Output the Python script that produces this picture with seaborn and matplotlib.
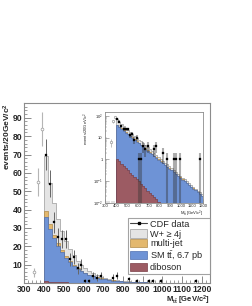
import numpy as np
import pandas as pd
import matplotlib
matplotlib.use("Agg")
import matplotlib.pyplot as plt
import seaborn as sns
from matplotlib.patches import Patch
from matplotlib.lines import Line2D
from matplotlib.ticker import FixedLocator, MultipleLocator, NullFormatter

# ---------------- data ----------------
bin_lo = 400
bin_hi = 1200
bin_w = 20
ttbar = [35.0, 28.9, 23.9, 19.7, 16.3, 13.5, 11.1, 9.2, 7.6, 6.3,
         5.2, 4.3, 3.55, 2.93, 2.42, 2.0, 1.65, 1.36, 1.13, 0.93,
         0.77, 0.64, 0.52, 0.43, 0.36, 0.30, 0.245, 0.20, 0.167, 0.138,
         0.114, 0.094, 0.078, 0.064, 0.053, 0.044, 0.036, 0.030, 0.025, 0.020]
wjets = [30.0, 22.5, 17.0, 13.2, 10.3, 8.1, 6.4, 5.0, 4.0, 3.1,
         2.45, 1.95, 1.55, 1.22, 0.97, 0.77, 0.61, 0.48, 0.38, 0.30,
         0.24, 0.19, 0.15, 0.12, 0.095, 0.075, 0.06, 0.048, 0.038, 0.030,
         0.024, 0.019, 0.015, 0.012, 0.0095, 0.0075, 0.006, 0.0048, 0.0038, 0.003]
multijet = [3.0, 2.4, 1.9, 1.54, 1.23, 0.98, 0.79, 0.63, 0.50, 0.40,
            0.32, 0.26, 0.21, 0.165, 0.13, 0.105, 0.085, 0.068, 0.054, 0.043,
            0.035, 0.028, 0.022, 0.018, 0.014, 0.011, 0.009, 0.007, 0.0058, 0.0046,
            0.0037, 0.003, 0.0024, 0.0019, 0.0015, 0.0012, 0.001, 0.0008, 0.0006, 0.0005]
diboson = [1.0, 0.79, 0.62, 0.49, 0.39, 0.31, 0.24, 0.19, 0.15, 0.12,
           0.094, 0.074, 0.058, 0.046, 0.036, 0.028, 0.022, 0.018, 0.014, 0.011,
           0.0085, 0.0067, 0.0053, 0.0042, 0.0033, 0.0026, 0.002, 0.0016, 0.0013, 0.001,
           0.0008, 0.0006, 0.0005, 0.0004, 0.0003, 0.00025, 0.0002, 0.00015, 0.00012, 0.0001]

data_x = [410, 430, 450, 470, 490, 510, 530, 550, 570, 590, 610, 630, 650, 670, 690,
          750, 770, 830, 870, 930, 950, 990, 1170]
data_y = [70, 54, 33, 25, 24, 24, 13, 14, 8, 10, 1, 1, 4, 3, 4,
          3, 4, 2, 1, 1, 1, 1, 1]
open_x = [350, 370, 390]
open_y = [6, 55, 84]

xticks_main = [300, 400, 500, 600, 700, 800, 900, 1000, 1100, 1200]
yticks_main = [10, 20, 30, 40, 50, 60, 70, 80, 90]
inset_yticks = [0.01, 0.1, 1, 10, 100]
inset_ylabels = ["$10^{-2}$", "$10^{-1}$", "1", "10", "$10^{2}$"]

labels = ["CDF data", "W+ \u2265 4j", "multi-jet", "SM t$\\bar{\\rm t}$, 6.7 pb", "diboson"]
c_grey, c_orange, c_blue, c_red = "#e4e4e4", "#e3b86e", "#6e93d6", "#9c5b63"

# ---------------- build ----------------
centers = np.arange(bin_lo, bin_hi, bin_w) + bin_w / 2
c1 = np.array(diboson)
c2 = c1 + np.array(ttbar)
c3 = c2 + np.array(multijet)
c4 = c3 + np.array(wjets)
df = pd.DataFrame({"m": centers, "c1": c1, "c2": c2, "c3": c3, "c4": c4})

sns.set_style("ticks")
plt.rcParams["font.family"] = ["Liberation Sans", "DejaVu Sans"]
plt.rcParams["mathtext.fontset"] = "custom"
plt.rcParams["mathtext.rm"] = "Liberation Sans"
plt.rcParams["mathtext.it"] = "Liberation Sans:italic"
plt.rcParams["mathtext.bf"] = "Liberation Sans:bold"

fig = plt.figure(figsize=(2.52, 3.06), dpi=100)
ax = fig.add_axes([0.096, 0.075, 0.737, 0.588])
axi = fig.add_axes([0.417, 0.338, 0.389, 0.296])
axi.set_yscale("log")

layers = [("c4", c_grey, "#9a9a9a"), ("c3", c_orange, "#b08a48"),
          ("c2", c_blue, "#4f70b0"), ("c1", c_red, "#7a3e46")]
for a in (ax, axi):
    for col, fc, ec in layers:
        sns.histplot(data=df, x="m", weights=col, binwidth=bin_w, binrange=(bin_lo, bin_hi),
                     element="step", fill=True, color=fc, alpha=1, edgecolor=ec,
                     linewidth=0.5, ax=a)

derr = np.sqrt(np.array(data_y, dtype=float))
oerr = np.sqrt(np.array(open_y, dtype=float))

# main data
ax.errorbar(open_x, open_y, yerr=oerr, fmt="none", ecolor="#b5b5b5", elinewidth=0.8, zorder=5)
ax.errorbar(data_x, data_y, yerr=derr, fmt="none", ecolor="#666666", elinewidth=0.7, zorder=5)
sns.scatterplot(x=open_x, y=open_y, marker="o", s=4, facecolor="white", edgecolor="#9a9a9a",
                linewidth=0.5, ax=ax, zorder=6)
sns.scatterplot(x=data_x, y=data_y, marker="s", s=3, color="black", edgecolor="black",
                linewidth=0.2, ax=ax, zorder=6)

# inset data
axi.errorbar(open_x, open_y, yerr=oerr, fmt="none", ecolor="#b5b5b5", elinewidth=0.6, zorder=5)
axi.errorbar(data_x, data_y, yerr=np.minimum(derr, np.array(data_y) * 0.9999), fmt="none",
             ecolor="#333333", alpha=0.4, elinewidth=1.5, zorder=5)
sns.scatterplot(x=open_x, y=open_y, marker="o", s=3, facecolor="white", edgecolor="#9a9a9a",
                linewidth=0.5, ax=axi, zorder=6)
sns.scatterplot(x=data_x, y=data_y, marker="s", s=3, color="black", edgecolor="black",
                linewidth=0.2, ax=axi, zorder=6)

# main axes styling
ax.set_xlim(300, 1240)
ax.set_ylim(0, 98)
ax.xaxis.set_major_locator(FixedLocator(xticks_main))
ax.xaxis.set_minor_locator(MultipleLocator(20))
ax.yaxis.set_major_locator(FixedLocator(yticks_main))
ax.yaxis.set_minor_locator(MultipleLocator(2))
ax.tick_params(which="both", direction="in", color="#777777", top=False, right=False)
ax.tick_params(which="major", length=5, width=0.6, labelsize=6.2, pad=1.5)
ax.tick_params(which="minor", length=2.5, width=0.5)
for lab in ax.get_xticklabels() + ax.get_yticklabels():
    lab.set_fontweight("bold")
for s in ax.spines.values():
    s.set_visible(True)
    s.set_color("#8c8c8c")
    s.set_linewidth(0.8)
ax.set_xlabel("M$_{\\mathbf{t\\bar{t}}}$ [GeV/c$^{\\mathbf{2}}$]", fontsize=5.5, fontweight="bold",
              ha="right", va="top")
ax.xaxis.set_label_coords(1.0, -0.058)
ax.set_ylabel("events/20GeV/c$^{\\mathbf{2}}$", fontsize=6.0, fontweight="bold", ha="right",
              va="center")
ax.yaxis.set_label_coords(-0.092, 1.0)

# inset styling
axi.set_xlim(300, 1200)
axi.set_ylim(0.01, 150)
axi.xaxis.set_major_locator(FixedLocator(xticks_main))
axi.xaxis.set_minor_locator(MultipleLocator(20))
axi.xaxis.set_minor_formatter(NullFormatter())
axi.yaxis.set_major_locator(FixedLocator(inset_yticks))
axi.set_yticklabels(inset_ylabels)
axi.yaxis.set_minor_formatter(NullFormatter())
axi.tick_params(which="both", direction="in", color="#777777", top=False, right=False)
axi.tick_params(which="major", length=3, width=0.4, labelsize=3.0)
axi.tick_params(axis="x", which="major", pad=0.8)
axi.tick_params(axis="y", which="major", pad=1.8)
axi.tick_params(which="minor", length=1.5, width=0.3)
for s in axi.spines.values():
    s.set_visible(True)
    s.set_color("#8c8c8c")
    s.set_linewidth(0.6)
axi.set_xlabel("M$_{t\\bar{t}}$ [GeV/c$^{2}$]", fontsize=3.0, loc="right", labelpad=0.5)
axi.set_ylabel("events/20GeV/c$^{2}$", fontsize=3.0, loc="top", labelpad=1)

# legend
handles = [Line2D([], [], color="#444444", lw=0.8, marker="s", markersize=2.0,
                  markerfacecolor="black", markeredgecolor="black"),
           Patch(facecolor=c_grey, edgecolor="#9a9a9a", lw=0.5),
           Patch(facecolor=c_orange, edgecolor="#b08a48", lw=0.5),
           Patch(facecolor=c_blue, edgecolor="#4f70b0", lw=0.5),
           Patch(facecolor=c_red, edgecolor="#7a3e46", lw=0.5)]
leg = fig.legend(handles, labels, loc="upper left", bbox_to_anchor=(0.508, 0.105, 0.325, 0.183),
                 mode="expand", fontsize=6.6, frameon=True, fancybox=False, borderpad=0.2,
                 labelspacing=0.05, handlelength=1.9, handleheight=1.0, handletextpad=0.3,
                 borderaxespad=0)
leg.get_frame().set_edgecolor("#8c8c8c")
leg.get_frame().set_linewidth(0.8)
leg.set_zorder(10)

fig.savefig("out.png", dpi=100)
